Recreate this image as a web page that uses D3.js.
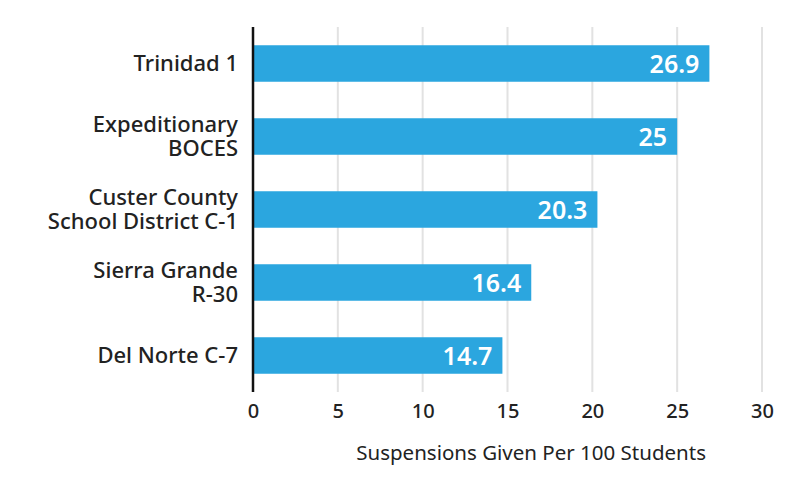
<!DOCTYPE html>
<html>
<head>
<meta charset="utf-8">
<script src="https://cdn.jsdelivr.net/npm/d3@7"></script>
<style>
  body { margin: 0; background: #fff; }
  text { font-family: "Noto Sans", sans-serif; }
</style>
</head>
<body>
<div id="chart"></div>
<script>
// Data
const districts = [
    ["Trinidad 1"],
    ["Expeditionary", "BOCES"],
    ["Custer County", "School District C-1"],
    ["Sierra Grande", "R-30"],
    ["Del Norte C-7"]
];
const rates = [26.9, 25, 20.3, 16.4, 14.7];
const xTicks = [0, 5, 10, 15, 20, 25, 30];

const width = 800, height = 487;
const margin = { top: 27, right: 38, bottom: 95, left: 253 };

const svg = d3.select("#chart")
    .append("svg")
    .attr("width", width)
    .attr("height", height);

const x = d3.scaleLinear()
    .domain([0, 30])
    .range([margin.left, width - margin.right]);

const y = d3.scaleBand()
    .domain(d3.range(rates.length))
    .range([margin.top, height - margin.bottom])
    .paddingInner(0.5)
    .paddingOuter(0.25);

// gridlines
svg.append("g")
    .selectAll("line")
    .data(xTicks.slice(1))
    .enter()
    .append("line")
    .attr("x1", d => x(d))
    .attr("x2", d => x(d))
    .attr("y1", margin.top)
    .attr("y2", height - margin.bottom)
    .attr("stroke", "#e2e2e2")
    .attr("stroke-width", 2);

// bars
svg.append("g")
    .selectAll("rect")
    .data(rates)
    .enter()
    .append("rect")
    .attr("x", x(0))
    .attr("y", (d, i) => y(i))
    .attr("width", d => x(d) - x(0))
    .attr("height", y.bandwidth())
    .attr("fill", "#2ba6df");

// value labels
svg.append("g")
    .selectAll("text")
    .data(rates)
    .enter()
    .append("text")
    .attr("x", d => x(d) - 10)
    .attr("y", (d, i) => y(i) + y.bandwidth() / 2)
    .attr("dy", "0.36em")
    .attr("text-anchor", "end")
    .attr("fill", "#fff")
    .style("font-size", "25px")
    .style("font-weight", "600")
    .text(d => d);

// x axis
const xAxis = svg.append("g")
    .attr("transform", `translate(0, ${height - margin.bottom})`)
    .call(d3.axisBottom(x).tickValues(xTicks).tickSize(0).tickPadding(12));
xAxis.select(".domain").remove();
xAxis.selectAll("text")
    .style("font-size", "20px")
    .style("font-family", "'Noto Sans', sans-serif")
    .style("font-weight", "500")
    .attr("fill", "#222");

// y axis line
svg.append("line")
    .attr("x1", x(0))
    .attr("x2", x(0))
    .attr("y1", margin.top)
    .attr("y2", height - margin.bottom)
    .attr("stroke", "#111")
    .attr("stroke-width", 2.5);

// category labels
const lab = svg.append("g")
    .selectAll("text")
    .data(districts)
    .enter()
    .append("text")
    .attr("text-anchor", "end")
    .attr("fill", "#222")
    .style("font-size", "22px")
    .style("font-weight", "500")
    .attr("transform", (d, i) => `translate(${x(0) - 15}, ${y(i) + y.bandwidth() / 2})`);
lab.selectAll("tspan")
    .data(d => d.map((t, j) => ({ t, j, n: d.length })))
    .enter()
    .append("tspan")
    .attr("x", 0)
    .attr("y", d => (d.j - (d.n - 1) / 2) * 24)
    .attr("dy", "0.36em")
    .text(d => d.t);

// axis title
svg.append("text")
    .attr("x", 706)
    .attr("y", 460)
    .attr("text-anchor", "end")
    .attr("fill", "#222")
    .style("font-size", "20.5px")
    .text("Suspensions Given Per 100 Students");
</script>
</body>
</html>
